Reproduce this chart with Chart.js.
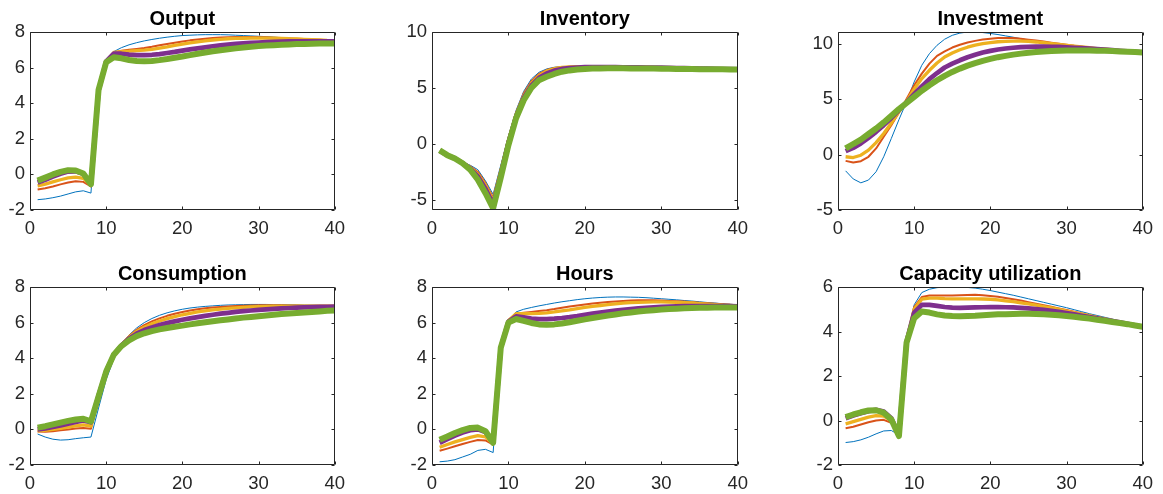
<!DOCTYPE html>
<html>
<head>
<meta charset="utf-8">
<script src="https://cdn.jsdelivr.net/npm/chart.js@4.4.1/dist/chart.umd.min.js"></script>
<style>
  html, body { margin: 0; padding: 0; background: #fff; }
  #wrap { position: relative; width: 1163px; height: 494px; overflow: hidden; }
  canvas { position: absolute; }
</style>
</head>
<body>
<div id="wrap"></div>
<script>
// horizon (x axis) and tick labels
const periods = [1,2,3,4,5,6,7,8,9,10,11,12,13,14,15,16,17,18,19,20,21,22,23,24,25,26,27,28,29,30,31,32,33,34,35,36,37,38,39,40];
const xTicks = [0, 10, 20, 30, 40];

// each panel: five responses, thinnest to thickest line
const output = [
    [-1.42,-1.38,-1.31,-1.22,-1.1,-0.98,-0.92,-1.05,4.7,6.4,6.9,7.12,7.28,7.4,7.5,7.58,7.65,7.71,7.76,7.8,7.82,7.84,7.85,7.85,7.85,7.84,7.82,7.8,7.78,7.76,7.74,7.71,7.68,7.65,7.63,7.6,7.57,7.55,7.52,7.5],
    [-0.85,-0.78,-0.68,-0.56,-0.46,-0.38,-0.42,-0.68,4.7,6.35,6.85,6.95,7.0,7.05,7.1,7.17,7.25,7.33,7.4,7.47,7.53,7.58,7.62,7.66,7.69,7.71,7.72,7.72,7.72,7.71,7.7,7.68,7.66,7.64,7.62,7.6,7.58,7.56,7.54,7.52],
    [-0.65,-0.55,-0.42,-0.3,-0.2,-0.15,-0.22,-0.6,4.7,6.35,6.85,6.9,6.92,6.95,6.98,7.03,7.1,7.17,7.25,7.32,7.39,7.45,7.5,7.55,7.59,7.62,7.64,7.65,7.66,7.66,7.66,7.65,7.64,7.62,7.61,7.59,7.57,7.55,7.53,7.52],
    [-0.45,-0.3,-0.12,0.04,0.16,0.17,0.04,-0.55,4.7,6.35,6.78,6.78,6.73,6.7,6.7,6.72,6.76,6.82,6.88,6.95,7.02,7.08,7.14,7.2,7.25,7.29,7.33,7.36,7.39,7.41,7.43,7.45,7.46,7.47,7.48,7.48,7.48,7.48,7.47,7.47],
    [-0.35,-0.18,0.0,0.14,0.24,0.22,0.05,-0.55,4.75,6.3,6.58,6.52,6.43,6.37,6.35,6.37,6.42,6.48,6.55,6.62,6.7,6.78,6.85,6.92,6.98,7.03,7.08,7.13,7.17,7.21,7.24,7.26,7.28,7.3,7.32,7.33,7.34,7.35,7.36,7.36]
];
const inventory = [
    [-0.7,-1.0,-1.28,-1.6,-1.9,-2.3,-3.3,-4.5,-1.9,0.7,3.0,4.7,5.8,6.4,6.7,6.85,6.9,6.92,6.93,6.93,6.92,6.91,6.9,6.89,6.88,6.87,6.86,6.85,6.83,6.82,6.8,6.79,6.77,6.76,6.74,6.72,6.71,6.69,6.68,6.66],
    [-0.68,-1.0,-1.3,-1.65,-2.0,-2.5,-3.5,-4.8,-2.2,0.5,2.8,4.5,5.6,6.25,6.6,6.78,6.86,6.9,6.92,6.92,6.92,6.91,6.9,6.89,6.88,6.87,6.86,6.85,6.83,6.82,6.8,6.79,6.77,6.76,6.74,6.72,6.71,6.69,6.68,6.66],
    [-0.66,-1.0,-1.3,-1.68,-2.1,-2.7,-3.7,-5.1,-2.5,0.3,2.6,4.3,5.4,6.1,6.5,6.72,6.83,6.88,6.9,6.91,6.91,6.91,6.9,6.89,6.88,6.87,6.86,6.85,6.83,6.82,6.8,6.79,6.77,6.76,6.74,6.72,6.71,6.69,6.68,6.66],
    [-0.62,-1.0,-1.3,-1.7,-2.2,-2.9,-4.0,-5.4,-2.8,0.1,2.4,4.1,5.2,5.9,6.3,6.55,6.7,6.78,6.83,6.86,6.87,6.87,6.87,6.86,6.85,6.85,6.84,6.83,6.82,6.81,6.8,6.78,6.77,6.75,6.74,6.72,6.71,6.69,6.68,6.66],
    [-0.57,-1.0,-1.3,-1.72,-2.3,-3.2,-4.4,-5.75,-3.0,-0.1,2.3,3.9,5.0,5.7,6.0,6.25,6.45,6.57,6.65,6.7,6.73,6.75,6.76,6.76,6.76,6.75,6.75,6.74,6.73,6.72,6.71,6.7,6.7,6.69,6.68,6.68,6.67,6.67,6.66,6.66]
];
const investment = [
    [-1.47,-2.2,-2.55,-2.3,-1.55,-0.2,1.45,3.15,4.75,6.55,8.05,9.1,9.85,10.4,10.75,10.95,11.05,11.05,11.0,10.92,10.82,10.7,10.58,10.45,10.33,10.21,10.1,9.99,9.89,9.8,9.72,9.65,9.58,9.52,9.46,9.4,9.35,9.29,9.24,9.18],
    [-0.57,-0.72,-0.6,-0.2,0.55,1.6,2.65,3.8,5.0,6.25,7.3,8.2,8.9,9.3,9.65,9.9,10.1,10.25,10.37,10.45,10.5,10.52,10.5,10.45,10.36,10.28,10.19,10.09,9.99,9.9,9.8,9.72,9.64,9.57,9.5,9.43,9.37,9.3,9.24,9.18],
    [-0.2,-0.27,-0.06,0.4,1.08,1.9,2.85,3.85,4.8,5.9,6.85,7.6,8.25,8.8,9.15,9.45,9.68,9.86,10.0,10.1,10.17,10.21,10.23,10.23,10.2,10.15,10.08,10.0,9.93,9.85,9.77,9.7,9.63,9.56,9.5,9.43,9.37,9.3,9.24,9.18],
    [0.3,0.6,1.0,1.5,2.05,2.65,3.3,4.0,4.7,5.45,6.15,6.8,7.35,7.85,8.2,8.5,8.77,9.0,9.2,9.35,9.47,9.56,9.63,9.68,9.71,9.73,9.73,9.72,9.7,9.67,9.63,9.59,9.55,9.5,9.46,9.41,9.36,9.31,9.26,9.21],
    [0.55,0.95,1.35,1.85,2.35,2.9,3.5,4.1,4.65,5.2,5.75,6.25,6.7,7.1,7.45,7.75,8.02,8.25,8.45,8.62,8.78,8.9,9.01,9.1,9.18,9.24,9.29,9.33,9.36,9.38,9.39,9.39,9.38,9.37,9.35,9.33,9.3,9.27,9.24,9.2]
];
const consumption = [
    [-0.26,-0.43,-0.55,-0.6,-0.58,-0.52,-0.47,-0.43,1.2,2.8,3.95,4.75,5.3,5.7,6.0,6.23,6.41,6.55,6.66,6.75,6.82,6.87,6.91,6.94,6.97,6.99,7.0,7.01,7.02,7.02,7.02,7.01,7.01,7.0,6.99,6.98,6.97,6.96,6.95,6.94],
    [-0.12,-0.13,-0.1,-0.05,0.0,0.05,0.08,0.03,1.7,3.1,4.15,4.77,5.24,5.59,5.86,6.07,6.24,6.38,6.5,6.6,6.68,6.75,6.8,6.85,6.88,6.91,6.93,6.95,6.96,6.97,6.97,6.97,6.97,6.96,6.96,6.95,6.95,6.94,6.94,6.93],
    [-0.08,-0.05,0.0,0.06,0.13,0.2,0.25,0.18,1.85,3.2,4.2,4.75,5.18,5.5,5.74,5.93,6.09,6.22,6.34,6.44,6.52,6.6,6.66,6.71,6.76,6.8,6.83,6.86,6.88,6.9,6.91,6.92,6.92,6.93,6.93,6.93,6.93,6.92,6.92,6.92],
    [0.0,0.06,0.14,0.22,0.32,0.42,0.5,0.4,1.9,3.25,4.2,4.72,5.1,5.38,5.58,5.73,5.86,5.97,6.07,6.16,6.24,6.31,6.38,6.44,6.5,6.55,6.6,6.64,6.68,6.71,6.74,6.77,6.8,6.82,6.84,6.86,6.87,6.88,6.89,6.9],
    [0.1,0.18,0.28,0.38,0.48,0.56,0.6,0.45,1.85,3.25,4.2,4.68,5.0,5.24,5.4,5.52,5.62,5.7,5.77,5.83,5.9,5.96,6.02,6.08,6.13,6.18,6.23,6.28,6.32,6.36,6.4,6.44,6.48,6.51,6.54,6.57,6.6,6.63,6.66,6.68]
];
const hours = [
    [-1.82,-1.78,-1.7,-1.55,-1.4,-1.18,-1.12,-1.3,4.65,6.15,6.6,6.75,6.85,6.94,7.02,7.1,7.17,7.23,7.29,7.34,7.38,7.41,7.43,7.44,7.44,7.43,7.42,7.4,7.37,7.34,7.31,7.28,7.24,7.21,7.17,7.13,7.1,7.06,7.03,7.0],
    [-1.2,-1.08,-0.95,-0.82,-0.7,-0.6,-0.62,-0.85,4.6,6.15,6.5,6.55,6.6,6.65,6.7,6.76,6.83,6.9,6.96,7.02,7.07,7.12,7.16,7.19,7.22,7.24,7.25,7.25,7.25,7.24,7.22,7.2,7.18,7.15,7.12,7.09,7.06,7.03,7.0,6.98],
    [-1.0,-0.85,-0.7,-0.57,-0.45,-0.35,-0.42,-0.8,4.6,6.1,6.5,6.5,6.5,6.52,6.55,6.6,6.66,6.72,6.79,6.85,6.91,6.96,7.01,7.05,7.09,7.12,7.14,7.15,7.16,7.16,7.15,7.14,7.12,7.1,7.07,7.04,7.01,6.98,6.96,6.94],
    [-0.75,-0.55,-0.35,-0.18,-0.05,0.0,-0.15,-0.75,4.6,6.05,6.35,6.3,6.23,6.2,6.2,6.22,6.26,6.31,6.37,6.44,6.5,6.56,6.62,6.67,6.72,6.76,6.8,6.83,6.86,6.88,6.9,6.91,6.92,6.93,6.93,6.93,6.93,6.92,6.92,6.91],
    [-0.58,-0.4,-0.2,-0.04,0.08,0.1,-0.1,-0.75,4.6,6.0,6.2,6.1,5.98,5.9,5.88,5.9,5.95,6.02,6.1,6.18,6.26,6.33,6.4,6.46,6.52,6.57,6.62,6.66,6.7,6.73,6.76,6.78,6.8,6.82,6.83,6.84,6.85,6.85,6.85,6.85]
];
const capacity = [
    [-0.99,-0.95,-0.87,-0.75,-0.6,-0.47,-0.45,-0.65,3.6,5.2,5.75,5.9,5.97,6.0,6.0,6.0,5.98,5.95,5.9,5.84,5.77,5.7,5.63,5.55,5.47,5.39,5.31,5.23,5.15,5.07,4.98,4.89,4.8,4.72,4.64,4.56,4.47,4.38,4.3,4.22],
    [-0.35,-0.28,-0.18,-0.08,0.0,0.03,-0.1,-0.65,3.6,5.1,5.55,5.62,5.62,5.62,5.62,5.63,5.64,5.65,5.63,5.6,5.56,5.51,5.45,5.39,5.32,5.25,5.18,5.11,5.04,4.97,4.89,4.81,4.73,4.65,4.57,4.5,4.42,4.35,4.28,4.21],
    [-0.15,-0.05,0.05,0.15,0.22,0.2,0.0,-0.65,3.6,5.0,5.45,5.5,5.5,5.48,5.47,5.47,5.47,5.47,5.46,5.45,5.42,5.38,5.34,5.29,5.24,5.18,5.12,5.06,4.99,4.92,4.85,4.78,4.71,4.64,4.57,4.5,4.42,4.35,4.28,4.21],
    [0.1,0.22,0.33,0.42,0.48,0.4,0.1,-0.65,3.55,4.85,5.2,5.2,5.15,5.1,5.07,5.06,5.07,5.08,5.09,5.1,5.1,5.09,5.08,5.06,5.04,5.01,4.97,4.93,4.88,4.83,4.77,4.71,4.65,4.59,4.53,4.47,4.41,4.35,4.28,4.21],
    [0.15,0.27,0.37,0.45,0.46,0.35,0.05,-0.7,3.5,4.6,4.9,4.85,4.77,4.72,4.7,4.69,4.7,4.71,4.73,4.75,4.77,4.78,4.79,4.8,4.8,4.79,4.77,4.75,4.73,4.7,4.66,4.62,4.58,4.53,4.48,4.43,4.38,4.33,4.27,4.21]
];

// y tick labels per panel
const yTicksOutput = [-2, 0, 2, 4, 6, 8];
const yTicksInventory = [-5, 0, 5, 10];
const yTicksInvestment = [-5, 0, 5, 10];
const yTicksConsumption = [-2, 0, 2, 4, 6, 8];
const yTicksHours = [-2, 0, 2, 4, 6, 8];
const yTicksCapacity = [-2, 0, 2, 4, 6];

// MATLAB default line colors and widths
const colors = ['#0072BD', '#D95319', '#EDB120', '#7E2F8E', '#77AC30'];
const widths = [1, 2, 3.3, 4.7, 6];

const FONT = '"Liberation Sans", Arial, Helvetica, sans-serif';
const AXIS = '#262626';

// box, inward ticks on all sides, and the bold title
const framePlugin = {
    id: 'frame',
    afterDatasetsDraw(chart, args, opts) {
        const {ctx, chartArea: a, scales} = chart;
        const L = Math.round(a.left) + 0.5, R = Math.round(a.right) - 0.5;
        const T = Math.round(a.top) + 0.5, B = Math.round(a.bottom) - 0.5;
        ctx.save();
        ctx.strokeStyle = AXIS;
        ctx.lineWidth = 1;
        ctx.beginPath();
        ctx.rect(L, T, R - L, B - T);
        scales.x.ticks.forEach(t => {
            const px = Math.round(scales.x.getPixelForValue(t.value)) + 0.5;
            ctx.moveTo(px, B); ctx.lineTo(px, B - 3);
            ctx.moveTo(px, T); ctx.lineTo(px, T + 3);
        });
        scales.y.ticks.forEach(t => {
            const py = Math.round(scales.y.getPixelForValue(t.value)) + 0.5;
            ctx.moveTo(L, py); ctx.lineTo(L + 3, py);
            ctx.moveTo(R, py); ctx.lineTo(R - 3, py);
        });
        ctx.stroke();
        ctx.fillStyle = '#000';
        ctx.font = 'bold 20px ' + FONT;
        ctx.textAlign = 'center';
        ctx.textBaseline = 'alphabetic';
        ctx.fillText(opts.text, (a.left + a.right) / 2, a.top - 7);
        ctx.restore();
    }
};

const PAD_L = 40, PAD_T = 35, PAD_R = 15, PAD_B = 35;

function makePanel(box, title, series, yMin, yMax, yTicks) {
    const canvas = document.createElement('canvas');
    const w = box.r - box.l + PAD_L + PAD_R;
    const h = box.b - box.t + PAD_T + PAD_B;
    canvas.width = w;
    canvas.height = h;
    canvas.style.width = w + 'px';
    canvas.style.height = h + 'px';
    canvas.style.left = (box.l - PAD_L) + 'px';
    canvas.style.top = (box.t - PAD_T) + 'px';
    document.getElementById('wrap').appendChild(canvas);

    new Chart(canvas.getContext('2d'), {
        type: 'line',
        data: {
            datasets: series.map((vals, i) => ({
                data: vals.map((v, j) => ({x: periods[j], y: v})),
                borderColor: colors[i],
                borderWidth: widths[i],
                pointRadius: 0,
                tension: 0,
                fill: false,
                clip: 0,
                borderJoinStyle: 'round',
                borderCapStyle: 'butt',
                order: series.length - i
            }))
        },
        options: {
            responsive: false,
            animation: false,
            devicePixelRatio: 1,
            layout: { padding: { left: 0, top: PAD_T, right: PAD_R, bottom: 0 } },
            plugins: {
                legend: { display: false },
                tooltip: { enabled: false },
                frame: { text: title }
            },
            scales: {
                x: {
                    type: 'linear',
                    min: 0,
                    max: 40,
                    grid: { display: false, drawTicks: false },
                    border: { display: false },
                    afterBuildTicks: s => { s.ticks = xTicks.map(v => ({value: v})); },
                    afterFit: s => { s.height = PAD_B; },
                    ticks: {
                        color: AXIS,
                        font: { family: FONT, size: 18.5 },
                        padding: 8,
                        maxRotation: 0
                    }
                },
                y: {
                    min: yMin,
                    max: yMax,
                    grid: { display: false, drawTicks: false },
                    border: { display: false },
                    afterBuildTicks: s => { s.ticks = yTicks.map(v => ({value: v})); },
                    afterFit: s => { s.width = PAD_L; },
                    ticks: {
                        color: AXIS,
                        font: { family: FONT, size: 18.5 },
                        padding: 5
                    }
                }
            }
        },
        plugins: [framePlugin]
    });
}

makePanel({l: 30, t: 32, r: 338, b: 210}, 'Output', output, -2, 8, yTicksOutput);
makePanel({l: 432, t: 32, r: 741, b: 210}, 'Inventory', inventory, -5.9, 10, yTicksInventory);
makePanel({l: 838, t: 32, r: 1146, b: 210}, 'Investment', investment, -5, 11.05, yTicksInvestment);
makePanel({l: 30, t: 287, r: 338, b: 465}, 'Consumption', consumption, -2, 8, yTicksConsumption);
makePanel({l: 432, t: 287, r: 741, b: 465}, 'Hours', hours, -2, 8, yTicksHours);
makePanel({l: 838, t: 287, r: 1146, b: 465}, 'Capacity utilization', capacity, -2, 6, yTicksCapacity);
</script>
</body>
</html>
